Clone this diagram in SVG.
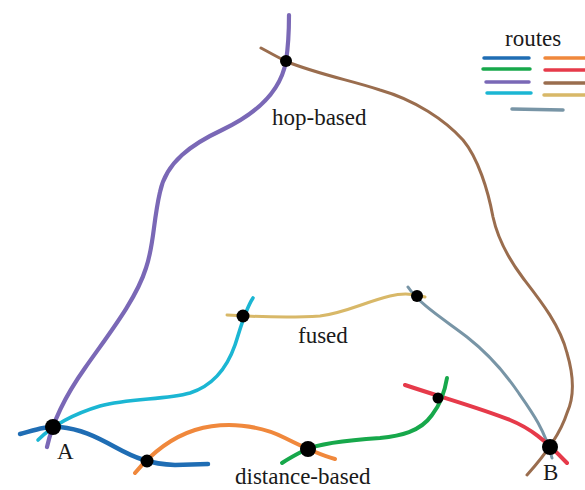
<svg xmlns="http://www.w3.org/2000/svg" width="585" height="490" viewBox="0 0 585 490">
  <style>
    .route { fill: none; stroke-linecap: round; stroke-linejoin: round; }
    .blue { stroke: #1f6db4; stroke-width: 4.5; }
    .orange { stroke: #f0883c; stroke-width: 4; }
    .green { stroke: #17a84b; stroke-width: 4; }
    .red { stroke: #e63a4a; stroke-width: 4; }
    .purple { stroke: #7a68b6; stroke-width: 4.2; }
    .brown { stroke: #9a6d4e; stroke-width: 3; }
    .cyan { stroke: #1bb6d3; stroke-width: 3.6; }
    .yellow { stroke: #d8b868; stroke-width: 3; }
    .gray { stroke: #7895a6; stroke-width: 3; }
    .key { fill: none; stroke-linecap: round; stroke-width: 3.5; }
    .node { fill: #000; }
    .label { font-family: "Liberation Serif", "Times New Roman", serif; font-size: 23px; fill: #1a1a1a; }
  </style>

  <!-- route curves -->
  <g id="connectors">
    <path class="route brown" d="M261,48 C270,53 278,57 285,61 C320,75 350,80 380,90 C415,100 445,120 463,140 C478,158 488,190 493,217 C498,240 508,258 523,278 C540,300 560,325 567,353 C575,380 573,400 567,413 C560,435 545,455 527,475"/>
    <path class="route purple" d="M289,15 C289,32 288,48 286,61 C281,90 258,113 222,130 C192,144 166,162 160,192 C153,222 154,245 146,268 C136,300 108,335 85,368 C68,392 53,420 47,447"/>
    <path class="route gray" d="M408,287 C420,305 445,320 467,337 C490,355 505,373 518,392 C532,412 545,430 552,458"/>
    <path class="route yellow" d="M227,315 C260,317 290,318 320,316 C345,313 365,302 390,296 C402,293 415,294 425,297"/>
    <path class="route cyan" d="M38,440 C50,428 70,415 100,406 C130,398 165,400 190,393 C215,385 228,365 235,345 C240,330 245,310 253,298"/>
    <path class="route red" d="M405,385 C450,400 480,408 510,420 C530,428 545,440 567,463"/>
    <path class="route green" d="M447,378 C445,390 440,405 432,415 C420,432 400,436 380,438 C350,440 320,443 305,450 C295,455 288,459 282,463"/>
    <path class="route orange" d="M135,473 C150,455 170,438 195,430 C225,421 260,425 285,438 C305,448 320,455 335,459"/>
    <path class="route blue" d="M20,434 C35,430 45,426 60,427 C80,429 95,436 115,447 C135,458 150,464 175,465 L208,464"/>
  </g>

  <!-- junction points -->
  <g id="node-A"><circle class="node" cx="53" cy="427" r="8"/><text class="label" x="57" y="459">A</text></g>
  <g id="node-B"><circle class="node" cx="550" cy="447" r="8"/><text class="label" x="543" y="480">B</text></g>
  <g id="node-hop"><circle class="node" cx="286" cy="61" r="6"/></g>
  <g id="node-fused-left"><circle class="node" cx="243" cy="316" r="6.5"/></g>
  <g id="node-fused-right"><circle class="node" cx="417" cy="296" r="6"/></g>
  <g id="node-green-red"><circle class="node" cx="438" cy="398" r="5.5"/></g>
  <g id="node-blue-orange"><circle class="node" cx="147" cy="461" r="6.5"/></g>
  <g id="node-orange-green"><circle class="node" cx="308" cy="449" r="8"/></g>

  <!-- route family labels -->
  <g id="labels">
    <text class="label" x="272" y="125">hop-based</text>
    <text class="label" x="298" y="343">fused</text>
    <text class="label" x="235" y="484">distance-based</text>
  </g>

  <!-- legend -->
  <g id="legend">
    <text class="label" x="505" y="46">routes</text>
    <line class="key" x1="484" y1="58" x2="529" y2="58" stroke="#1f6db4"/>
    <line class="key" x1="545" y1="58" x2="590" y2="58" stroke="#f0883c"/>
    <line class="key" x1="483" y1="69" x2="530" y2="69" stroke="#17a84b"/>
    <line class="key" x1="545" y1="70" x2="590" y2="70" stroke="#e63a4a"/>
    <line class="key" x1="486" y1="82" x2="529" y2="82" stroke="#7a68b6"/>
    <line class="key" x1="545" y1="83" x2="590" y2="83" stroke="#9a6d4e"/>
    <line class="key" x1="487" y1="93" x2="531" y2="93" stroke="#1bb6d3"/>
    <line class="key" x1="544" y1="95" x2="590" y2="95" stroke="#d8b868"/>
    <line class="key" x1="512" y1="109" x2="563" y2="110" stroke="#7895a6"/>
  </g>
</svg>
